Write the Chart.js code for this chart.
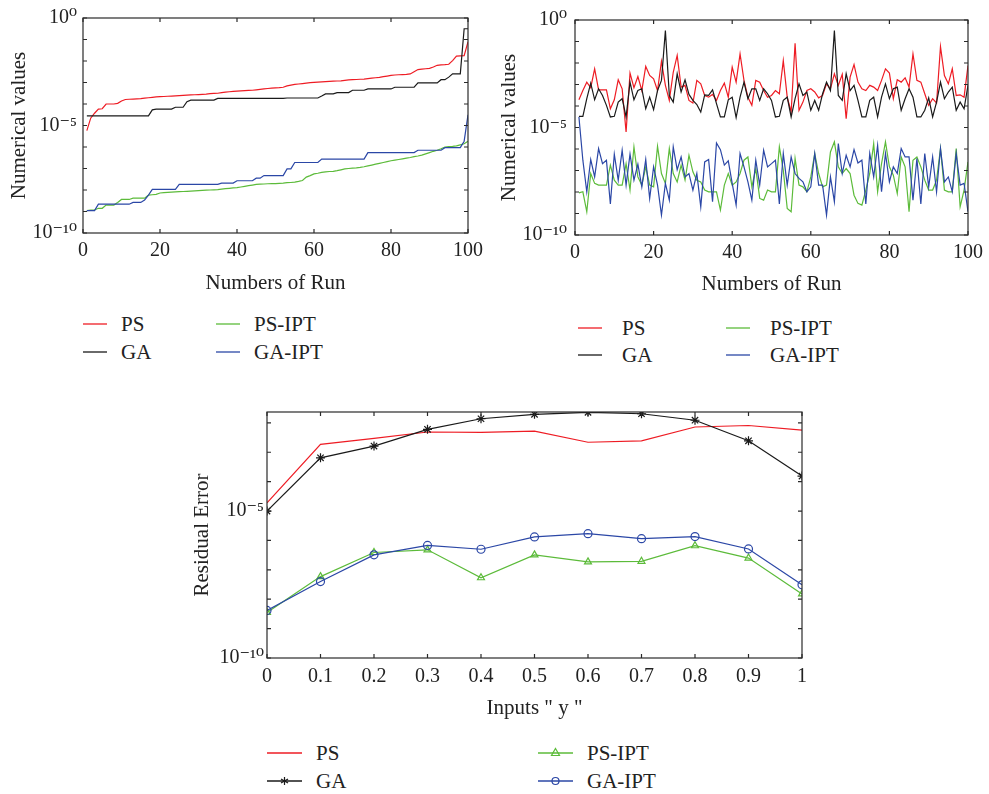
<!DOCTYPE html>
<html>
<head>
<meta charset="utf-8">
<script src="https://cdn.jsdelivr.net/npm/chart.js@4.4.0/dist/chart.umd.min.js"></script>
<style>
  body { margin: 0; background: #fff; }
  #wrap { position: relative; width: 989px; height: 794px; overflow: hidden; font-family: "Liberation Serif", "DejaVu Serif", serif; color: #222; }
  canvas { position: absolute; }
  .lg { position: absolute; font-size: 21px; line-height: 24px; white-space: nowrap; }
  .lg svg { position: absolute; }
</style>
</head>
<body>
<div id="wrap">
  <canvas id="chartSorted" width="490" height="300" style="left:0;top:0"></canvas>
  <canvas id="chartRuns" width="494" height="300" style="left:495px;top:0"></canvas>
  <canvas id="chartInputs" width="680" height="330" style="left:150px;top:395px"></canvas>
</div>
<script>
// Serie e colori (stesso ordine in tutti e tre i grafici)
const seriesNames = ['PS', 'GA', 'PS-IPT', 'GA-IPT'];
const seriesColors = ['#ee1c24', '#1a1a1a', '#5cbb3a', '#2b47a6'];
const seriesMarkers = [null, 'star', 'triangle', 'circle'];

// Valori in log10 (grafico in alto a sinistra: 100 run ordinati)
const psSortedLog = [
  -5.24,-4.66,-4.43,-4.24,-4.22,-4.00,-4.00,-4.00,-3.97,-3.86,
  -3.79,-3.78,-3.77,-3.76,-3.75,-3.73,-3.71,-3.69,-3.67,-3.66,
  -3.65,-3.64,-3.63,-3.62,-3.61,-3.60,-3.59,-3.58,-3.57,-3.56,
  -3.55,-3.54,-3.52,-3.51,-3.50,-3.47,-3.45,-3.43,-3.41,-3.40,
  -3.39,-3.38,-3.37,-3.36,-3.34,-3.32,-3.30,-3.28,-3.26,-3.25,
  -3.24,-3.22,-3.16,-3.12,-3.09,-3.07,-3.05,-3.03,-3.01,-2.99,
  -2.98,-2.97,-2.96,-2.95,-2.94,-2.93,-2.92,-2.90,-2.88,-2.87,
  -2.86,-2.85,-2.84,-2.82,-2.80,-2.78,-2.76,-2.73,-2.70,-2.67,
  -2.65,-2.64,-2.63,-2.62,-2.60,-2.50,-2.40,-2.38,-2.36,-2.34,
  -2.28,-2.20,-2.18,-2.17,-2.15,-1.98,-1.77,-1.76,-1.75,-1.11
];
const gaSortedLog = [
  -4.55,-4.55,-4.55,-4.55,-4.55,-4.55,-4.55,-4.55,-4.55,-4.55,
  -4.55,-4.55,-4.55,-4.55,-4.55,-4.55,-4.55,-4.27,-4.24,-4.24,
  -4.24,-4.24,-4.24,-4.15,-4.15,-4.15,-3.89,-3.82,-3.82,-3.82,
  -3.82,-3.82,-3.82,-3.82,-3.74,-3.74,-3.74,-3.74,-3.74,-3.74,
  -3.74,-3.74,-3.74,-3.74,-3.74,-3.74,-3.74,-3.74,-3.74,-3.74,
  -3.74,-3.74,-3.72,-3.72,-3.72,-3.72,-3.72,-3.72,-3.72,-3.72,
  -3.72,-3.63,-3.53,-3.53,-3.53,-3.47,-3.47,-3.47,-3.47,-3.36,
  -3.36,-3.36,-3.36,-3.30,-3.30,-3.30,-3.30,-3.30,-3.30,-3.30,
  -3.22,-3.22,-3.22,-3.22,-3.22,-3.22,-3.02,-3.02,-3.02,-3.02,
  -3.02,-3.02,-2.87,-2.87,-2.75,-2.60,-2.60,-2.60,-0.50,-0.50
];
const psIptSortedLog = [
  -8.96,-8.93,-8.93,-8.85,-8.85,-8.70,-8.70,-8.70,-8.58,-8.44,
  -8.44,-8.44,-8.38,-8.38,-8.38,-8.38,-8.24,-8.22,-8.20,-8.14,
  -8.12,-8.11,-8.10,-8.09,-8.08,-8.07,-8.06,-8.05,-8.04,-8.03,
  -8.02,-8.01,-8.00,-7.99,-7.98,-7.96,-7.94,-7.92,-7.90,-7.89,
  -7.86,-7.83,-7.80,-7.77,-7.74,-7.73,-7.72,-7.71,-7.70,-7.70,
  -7.69,-7.68,-7.66,-7.65,-7.63,-7.60,-7.56,-7.40,-7.33,-7.25,
  -7.22,-7.18,-7.16,-7.14,-7.13,-7.10,-7.06,-7.02,-7.00,-6.98,
  -6.97,-6.95,-6.92,-6.88,-6.84,-6.80,-6.76,-6.72,-6.68,-6.64,
  -6.61,-6.58,-6.55,-6.52,-6.49,-6.45,-6.42,-6.38,-6.32,-6.26,
  -6.20,-6.15,-6.08,-6.00,-5.98,-5.97,-5.95,-5.90,-5.85,-5.73
];
const gaIptSortedLog = [
  -8.96,-8.96,-8.96,-8.66,-8.66,-8.66,-8.66,-8.66,-8.66,-8.66,
  -8.66,-8.66,-8.58,-8.58,-8.58,-8.47,-8.24,-7.97,-7.97,-7.97,
  -7.97,-7.97,-7.97,-7.97,-7.74,-7.74,-7.74,-7.74,-7.74,-7.74,
  -7.74,-7.74,-7.74,-7.74,-7.74,-7.68,-7.68,-7.68,-7.68,-7.57,
  -7.57,-7.57,-7.57,-7.57,-7.45,-7.45,-7.33,-7.33,-7.33,-7.33,
  -7.33,-7.33,-7.02,-7.02,-6.72,-6.72,-6.72,-6.72,-6.72,-6.72,
  -6.72,-6.56,-6.56,-6.56,-6.56,-6.56,-6.56,-6.56,-6.56,-6.56,
  -6.56,-6.56,-6.56,-6.26,-6.26,-6.26,-6.26,-6.26,-6.26,-6.26,
  -6.26,-6.26,-6.26,-6.26,-6.26,-6.26,-6.15,-6.15,-6.15,-6.15,
  -6.15,-6.15,-6.15,-6.03,-6.03,-6.03,-6.03,-6.03,-5.73,-4.50
];

// Grafico in alto a destra: 100 run non ordinati (log10)
const psRunLog = [
  -3.71,-3.28,-2.89,-3.15,-2.27,-3.25,-3.25,-3.25,-4.13,-3.71,
  -2.78,-3.20,-5.21,-2.47,-3.15,-2.63,-3.28,-2.16,-2.58,-2.74,
  -3.28,-1.92,-3.04,-3.74,-2.43,-1.65,-3.12,-3.04,-3.74,-3.86,
  -2.81,-2.97,-3.51,-3.59,-3.46,-3.74,-3.28,-2.94,-3.59,-2.19,
  -2.89,-1.58,-2.81,-3.59,-3.97,-2.81,-2.89,-3.28,-3.59,-3.51,
  -3.28,-3.43,-1.89,-3.59,-4.28,-1.08,-4.20,-3.82,-3.28,-3.20,
  -3.35,-3.62,-3.51,-2.97,-3.20,-2.50,-3.04,-2.53,-4.59,-2.66,
  -2.07,-2.89,-3.20,-3.28,-3.04,-3.12,-3.28,-2.81,-2.27,-2.47,
  -3.66,-2.78,-2.89,-2.69,-3.12,-1.58,-2.81,-2.89,-3.43,-3.97,
  -3.66,-3.86,-1.24,-2.58,-2.97,-2.27,-3.51,-3.48,-3.59,-2.12
];
const gaRunLog = [
  -4.48,-4.48,-3.66,-2.94,-3.71,-3.20,-3.51,-3.97,-4.51,-4.48,
  -3.82,-3.66,-4.51,-2.89,-3.71,-3.28,-3.20,-4.13,-3.59,-4.17,
  -3.28,-2.81,-0.49,-3.51,-3.82,-2.50,-3.35,-2.78,-3.46,-3.74,
  -3.93,-4.28,-3.48,-3.51,-3.25,-3.89,-4.51,-4.51,-3.71,-3.59,
  -4.54,-3.59,-2.89,-3.66,-3.20,-3.20,-3.74,-3.20,-3.43,-3.74,
  -4.51,-4.48,-3.74,-3.59,-4.51,-3.66,-2.97,-3.51,-3.35,-4.20,
  -3.74,-4.20,-3.43,-2.89,-3.28,-0.49,-3.51,-3.74,-2.50,-3.28,
  -3.04,-3.74,-4.51,-4.51,-3.74,-3.59,-4.51,-3.59,-2.97,-3.66,
  -3.20,-3.12,-4.20,-3.66,-3.20,-3.59,-4.51,-4.51,-4.20,-3.62,
  -4.51,-3.82,-2.89,-3.66,-3.35,-3.12,-4.20,-3.82,-4.13,-3.04
];
const psIptRunLog = [
  -8.04,-7.99,-8.92,-7.14,-7.60,-7.68,-7.68,-7.68,-6.75,-7.45,
  -7.68,-7.68,-6.68,-7.91,-5.90,-7.30,-7.68,-6.83,-7.68,-7.76,
  -5.87,-7.14,-7.60,-5.98,-7.14,-7.53,-6.75,-7.45,-6.29,-7.06,
  -7.45,-7.53,-7.91,-7.99,-7.99,-7.99,-8.84,-7.68,-7.14,-7.68,
  -7.53,-7.14,-6.52,-6.37,-7.76,-6.91,-8.30,-8.38,-7.91,-7.99,
  -7.99,-5.90,-6.99,-8.76,-8.92,-6.44,-7.68,-7.76,-7.99,-7.30,
  -6.21,-7.14,-7.76,-7.68,-6.14,-5.67,-6.83,-7.14,-6.91,-7.14,
  -8.15,-8.53,-8.61,-7.91,-7.14,-5.75,-7.99,-6.68,-5.67,-6.83,
  -7.22,-8.07,-6.37,-6.83,-8.92,-6.52,-6.37,-6.83,-7.45,-7.91,
  -7.91,-7.45,-5.98,-7.91,-7.99,-7.99,-5.98,-8.69,-7.91,-6.60
];
const gaIptRunLog = [
  -4.51,-6.52,-7.99,-6.49,-7.30,-5.98,-6.68,-6.52,-8.56,-6.24,
  -7.45,-6.06,-7.68,-6.24,-7.45,-6.71,-7.76,-6.49,-8.30,-6.83,
  -7.68,-9.07,-7.60,-8.38,-5.90,-6.96,-6.37,-7.30,-7.14,-7.91,
  -7.14,-8.69,-6.60,-6.49,-8.45,-5.72,-6.03,-6.75,-6.55,-7.60,
  -8.61,-6.21,-6.83,-7.53,-8.38,-6.52,-7.68,-6.06,-6.83,-6.68,
  -6.52,-8.56,-6.21,-7.68,-6.37,-7.14,-7.37,-7.53,-7.99,-7.76,
  -6.21,-7.68,-7.68,-9.07,-7.30,-8.45,-5.75,-7.14,-6.29,-6.83,
  -6.03,-6.65,-6.52,-8.56,-6.21,-7.30,-5.83,-7.99,-6.21,-7.53,
  -6.83,-7.14,-5.98,-6.37,-6.37,-8.38,-6.44,-8.56,-6.21,-7.76,
  -6.37,-7.99,-5.98,-7.53,-7.30,-7.99,-6.21,-7.68,-7.60,-8.92
];

// Grafico in basso: errore residuo per ingresso y (log10)
const inputsY = [0, 0.1, 0.2, 0.3, 0.4, 0.5, 0.6, 0.7, 0.8, 0.9, 1];
const psResLog    = [-4.72,-2.73,-2.53,-2.31,-2.32,-2.28,-2.66,-2.61,-2.14,-2.09,-2.25];
const gaResLog    = [-5.00,-3.19,-2.79,-2.22,-1.86,-1.71,-1.64,-1.69,-1.91,-2.61,-3.81];
const psIptResLog = [-8.45,-7.23,-6.41,-6.32,-7.27,-6.49,-6.73,-6.71,-6.18,-6.60,-7.82];
const gaIptResLog = [-8.38,-7.40,-6.49,-6.17,-6.30,-5.88,-5.77,-5.94,-5.87,-6.29,-7.51];

// Tick
const runTicks = [0, 20, 40, 60, 80, 100];
const decadesTop = [-10,-9,-8,-7,-6,-5,-4,-3,-2,-1,0];
const decadesBottom = [-10,-9,-8,-7,-6,-5,-4,-3,-2];
const labeledTop = [0, -5, -10];
const labeledBottom = [-5, -10];

const FONT = '"Liberation Serif", "DejaVu Serif", serif';
Chart.defaults.font.family = FONT;
Chart.defaults.color = '#222';
Chart.defaults.animation = false;

const SUP = { '0':'⁰','1':'¹','2':'²','3':'³','4':'⁴','5':'⁵','6':'⁶','7':'⁷','8':'⁸','9':'⁹','-':'⁻' };
function powLabel(e) {
    return '10' + String(e).split('').map(c => SUP[c]).join('');
}

// Riquadro stile MATLAB con tacche interne su tutti i lati
const boxTicks = {
    id: 'boxTicks',
    afterDatasetsDraw(chart) {
        const { ctx, chartArea: a, scales: { x, y } } = chart;
        ctx.save();
        ctx.strokeStyle = '#2a2a2a';
        ctx.lineWidth = 1.2;
        ctx.strokeRect(a.left, a.top, a.right - a.left, a.bottom - a.top);
        const len = 4;
        ctx.beginPath();
        x.ticks.forEach(t => {
            const px = x.getPixelForValue(t.value);
            ctx.moveTo(px, a.bottom); ctx.lineTo(px, a.bottom - len);
            ctx.moveTo(px, a.top); ctx.lineTo(px, a.top + len);
        });
        y.ticks.forEach(t => {
            const py = y.getPixelForValue(t.value);
            ctx.moveTo(a.left, py); ctx.lineTo(a.left + len, py);
            ctx.moveTo(a.right, py); ctx.lineTo(a.right - len, py);
        });
        ctx.stroke();
        ctx.restore();
    }
};

function toValues(logs) { return logs.map(v => Math.pow(10, v)); }

function makeChart(id, cfg) {
    const datasets = cfg.series.map((logs, i) => ({
        label: seriesNames[i],
        data: toValues(logs).map((v, k) => ({ x: cfg.xs[k], y: v })),
        borderColor: seriesColors[i],
        backgroundColor: 'rgba(0,0,0,0)',
        borderWidth: 1.2,
        pointRadius: cfg.markers && seriesMarkers[i] ? (seriesMarkers[i] === 'star' ? 4.5 : 4) : 0,
        pointStyle: seriesMarkers[i] || 'circle',
        pointBorderColor: seriesColors[i],
        pointBorderWidth: 1.2,
        tension: 0,
        order: 4 - i
    }));
    return new Chart(document.getElementById(id), {
        type: 'line',
        data: { datasets },
        options: {
            responsive: false,
            layout: { padding: cfg.padding },
            plugins: { legend: { display: false }, tooltip: { enabled: false } },
            scales: {
                x: {
                    type: 'linear',
                    min: cfg.xMin, max: cfg.xMax,
                    grid: { display: false, drawTicks: false },
                    border: { display: false },
                    afterBuildTicks: s => { s.ticks = cfg.xTicks.map(v => ({ value: v })); },
                    ticks: {
                        autoSkip: false, maxRotation: 0, padding: cfg.xTickPad,
                        font: { size: 20 }, color: '#222',
                        callback: v => String(Math.round(v * 10) / 10)
                    },
                    title: { display: true, text: cfg.xTitle, font: { size: 21 }, color: '#222', padding: { bottom: cfg.xTitlePad, top: 0 } },
                    afterFit: s => { s.height = cfg.xHeight; }
                },
                y: {
                    type: 'logarithmic',
                    min: cfg.yMin, max: cfg.yMax,
                    grid: { display: false, drawTicks: false },
                    border: { display: false },
                    afterBuildTicks: s => { s.ticks = cfg.decades.map(e => ({ value: Math.pow(10, e) })); },
                    ticks: {
                        autoSkip: false, padding: cfg.yTickPad,
                        font: { size: 20 }, color: '#222',
                        callback: v => {
                            const e = Math.round(Math.log10(v));
                            return cfg.labeled.includes(e) ? powLabel(e) : '';
                        }
                    },
                    title: { display: true, text: cfg.yTitle, font: { size: 21 }, color: '#222', padding: { top: cfg.yTitlePad, bottom: 0 } },
                    afterFit: s => { s.width = cfg.yWidth; }
                }
            }
        },
        plugins: [boxTicks]
    });
}

const runs = psSortedLog.map((_, i) => i + 1);

makeChart('chartSorted', {
    series: [psSortedLog, gaSortedLog, psIptSortedLog, gaIptSortedLog],
    xs: runs, xMin: 0, xMax: 100, xTicks: runTicks,
    yMin: 1e-10, yMax: 1, decades: decadesTop, labeled: labeledTop,
    xTitle: 'Numbers of Run', yTitle: 'Numerical values',
    padding: { left: 0, top: 15, right: 22, bottom: 0 },
    yWidth: 83, xHeight: 67, xTickPad: 6, yTickPad: 6, xTitlePad: 4, yTitlePad: 7
});

makeChart('chartRuns', {
    series: [psRunLog, gaRunLog, psIptRunLog, gaIptRunLog],
    xs: runs, xMin: 0, xMax: 100, xTicks: runTicks,
    yMin: 1e-10, yMax: 1, decades: decadesTop, labeled: labeledTop,
    xTitle: 'Numbers of Run', yTitle: 'Numerical values',
    padding: { left: 0, top: 19, right: 18, bottom: 0 },
    yWidth: 80, xHeight: 65, xTickPad: 6, yTickPad: 8, xTitlePad: 3, yTitlePad: 2
});

makeChart('chartInputs', {
    series: [psResLog, gaResLog, psIptResLog, gaIptResLog],
    xs: inputsY, xMin: 0, xMax: 1, xTicks: inputsY,
    yMin: 1e-10, yMax: Math.pow(10, -1.63), decades: decadesBottom, labeled: labeledBottom,
    xTitle: 'Inputs " y "', yTitle: 'Residual Error', markers: true,
    padding: { left: 0, top: 17, right: 28, bottom: 0 },
    yWidth: 117, xHeight: 67, xTickPad: 7, yTickPad: 3, xTitlePad: 4, yTitlePad: 40
});

// Legende HTML (due colonne)
function markerSvg(kind, color, cx) {
    if (kind === 'star') {
        return `<line x1="${cx}" y1="8" x2="${cx}" y2="16" stroke="${color}" stroke-width="1.2"/>` +
               `<line x1="${cx - 3.5}" y1="10" x2="${cx + 3.5}" y2="14" stroke="${color}" stroke-width="1.2"/>` +
               `<line x1="${cx - 3.5}" y1="14" x2="${cx + 3.5}" y2="10" stroke="${color}" stroke-width="1.2"/>`;
    }
    if (kind === 'triangle') {
        return `<polygon points="${cx},7.5 ${cx + 4},14.5 ${cx - 4},14.5" fill="none" stroke="${color}" stroke-width="1.2"/>`;
    }
    if (kind === 'circle') {
        return `<circle cx="${cx}" cy="12" r="3.5" fill="none" stroke="${color}" stroke-width="1.2"/>`;
    }
    return '';
}

function addLegend(spec) {
    const wrap = document.getElementById('wrap');
    seriesNames.forEach((name, i) => {
        const col = i >= 2 ? 1 : 0;
        const row = i % 2;
        const lx = spec.lineX[col], ly = spec.rowY[row];
        const d = document.createElement('div');
        d.className = 'lg';
        d.style.left = lx + 'px';
        d.style.top = (ly - 12) + 'px';
        const mk = spec.markers ? markerSvg(seriesMarkers[i], seriesColors[i], spec.lineLen / 2) : '';
        d.innerHTML = `<svg width="${spec.lineLen}" height="24" style="left:0;top:0">` +
            `<line x1="0" y1="12" x2="${spec.lineLen}" y2="12" stroke="${seriesColors[i]}" stroke-width="1.3"/>${mk}</svg>` +
            `<span style="position:absolute;left:${spec.textGap}px;top:0">${name}</span>`;
        wrap.appendChild(d);
    });
}

addLegend({ lineX: [83, 216], rowY: [324, 352], lineLen: 24, textGap: 38 });
addLegend({ lineX: [578, 726], rowY: [328, 355], lineLen: 24, textGap: 44 });
addLegend({ lineX: [267, 538], rowY: [753, 781], lineLen: 35, textGap: 49, markers: true });
</script>
</body>
</html>
